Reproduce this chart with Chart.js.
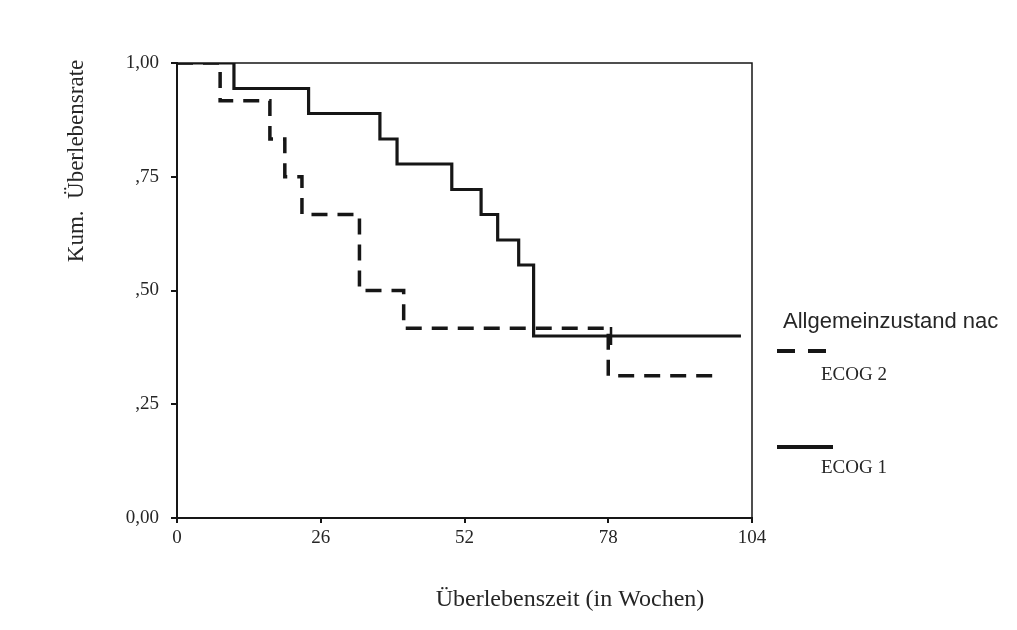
<!DOCTYPE html>
<html>
<head>
<meta charset="utf-8">
<script src="https://cdn.jsdelivr.net/npm/chart.js@4.4.1/dist/chart.umd.min.js"></script>
<style>
    html, body { margin: 0; padding: 0; background: #fff; }
    #kmChart { display: block; }
</style>
</head>
<body>
<canvas id="kmChart" width="1017" height="630"></canvas>
<script>
    // Kaplan-Meier Daten
    var ecog1Wochen = [0, 10.3, 23.8, 36.7, 39.8, 49.7, 55, 58, 61.8, 64.5, 102];
    var ecog1Rate   = [1, 0.944, 0.889, 0.833, 0.778, 0.722, 0.667, 0.611, 0.556, 0.40, 0.40];

    var ecog2Wochen = [0, 7.8, 16.8, 19.5, 22.6, 33, 41, 78, 97.6];
    var ecog2Rate   = [1, 0.917, 0.833, 0.75, 0.667, 0.50, 0.417, 0.3125, 0.3125];

    var zensiertWochen = [78.5];
    var zensiertRate   = [0.40];

    var xTicks = [0, 26, 52, 78, 104];
    var yTicks = [0, 0.25, 0.5, 0.75, 1];
    var yTickLabels = ['0,00', ',25', ',50', ',75', '1,00'];

    var legendTitle = 'Allgemeinzustand nac';
    var seriesNames = ['ECOG 2', 'ECOG 1'];

    var ink = '#161616';
    var textInk = '#262626';
    var serif = '"Liberation Serif", "Times New Roman", serif';

    function toPoints(xs, ys) {
        return xs.map(function (x, i) { return { x: x, y: ys[i] }; });
    }

    //-----------------------------
    //- Rahmen, Titel und Legende -
    //-----------------------------
    var rahmenPlugin = {
        id: 'rahmen',
        afterDraw: function (chart) {
            var ctx = chart.ctx;
            var a = chart.chartArea;
            ctx.save();

            // box top + right
            ctx.strokeStyle = ink;
            ctx.lineWidth = 1.5;
            ctx.beginPath();
            ctx.moveTo(a.left, a.top);
            ctx.lineTo(a.right, a.top);
            ctx.lineTo(a.right, a.bottom);
            ctx.stroke();

            // axis titles
            ctx.fillStyle = textInk;
            ctx.font = '24px ' + serif;
            ctx.textAlign = 'center';
            ctx.textBaseline = 'middle';
            ctx.fillText('Überlebenszeit (in Wochen)', 570, 600);

            ctx.save();
            ctx.translate(77, 161);
            ctx.rotate(-Math.PI / 2);
            ctx.font = '23px ' + serif;
            ctx.fillText('Kum.  Überlebensrate', 0, 0);
            ctx.restore();

            // legend
            ctx.textAlign = 'left';
            ctx.font = '22px "Liberation Sans", Arial, sans-serif';
            ctx.fillText(legendTitle, 783, 322);

            ctx.lineWidth = 4;
            ctx.setLineDash([18, 13]);
            ctx.beginPath();
            ctx.moveTo(777, 351);
            ctx.lineTo(827, 351);
            ctx.stroke();

            ctx.setLineDash([]);
            ctx.beginPath();
            ctx.moveTo(777, 447);
            ctx.lineTo(833, 447);
            ctx.stroke();

            ctx.font = '19px ' + serif;
            ctx.fillText(seriesNames[0], 821, 375);
            ctx.fillText(seriesNames[1], 821, 468);

            ctx.restore();
        }
    };

    var kmData = {
        datasets: [
            {
                label: seriesNames[0],
                data: toPoints(ecog2Wochen, ecog2Rate),
                stepped: true,
                borderColor: ink,
                borderWidth: 3.5,
                borderDash: [16, 10],
                pointRadius: 0,
                fill: false
            },
            {
                label: seriesNames[1],
                data: toPoints(ecog1Wochen, ecog1Rate),
                stepped: true,
                borderColor: ink,
                borderWidth: 3.2,
                pointRadius: 0,
                fill: false
            },
            {
                label: 'zensiert',
                data: toPoints(zensiertWochen, zensiertRate),
                showLine: false,
                pointStyle: 'line',
                rotation: 90,
                pointRadius: 9,
                borderColor: ink,
                borderWidth: 2.5
            }
        ]
    };

    var kmOptions = {
        responsive: false,
        animation: false,
        devicePixelRatio: 1,
        layout: { padding: { top: 63, right: 265, bottom: 0, left: 0 } },
        plugins: {
            legend: { display: false },
            tooltip: { enabled: false }
        },
        scales: {
            x: {
                type: 'linear',
                min: 0,
                max: 104,
                afterFit: function (scale) { scale.height = 112; },
                afterBuildTicks: function (scale) {
                    scale.ticks = xTicks.map(function (v) { return { value: v }; });
                },
                border: { display: true, color: ink, width: 2 },
                grid: { drawOnChartArea: false, drawTicks: true, tickLength: 5, color: ink, lineWidth: 2 },
                ticks: {
                    color: textInk,
                    padding: 4,
                    maxRotation: 0,
                    font: { family: serif, size: 19 }
                }
            },
            y: {
                type: 'linear',
                min: 0,
                max: 1,
                afterFit: function (scale) { scale.width = 177; },
                afterBuildTicks: function (scale) {
                    scale.ticks = yTicks.map(function (v) { return { value: v }; });
                },
                border: { display: true, color: ink, width: 2 },
                grid: { drawOnChartArea: false, drawTicks: true, tickLength: 6, color: ink, lineWidth: 2 },
                ticks: {
                    color: textInk,
                    padding: 12,
                    font: { family: serif, size: 19 },
                    callback: function (v) {
                        var i = yTicks.indexOf(v);
                        return i > -1 ? yTickLabels[i] : '';
                    }
                }
            }
        }
    };

    new Chart(document.getElementById('kmChart').getContext('2d'), {
        type: 'line',
        data: kmData,
        options: kmOptions,
        plugins: [rahmenPlugin]
    });
</script>
</body>
</html>
